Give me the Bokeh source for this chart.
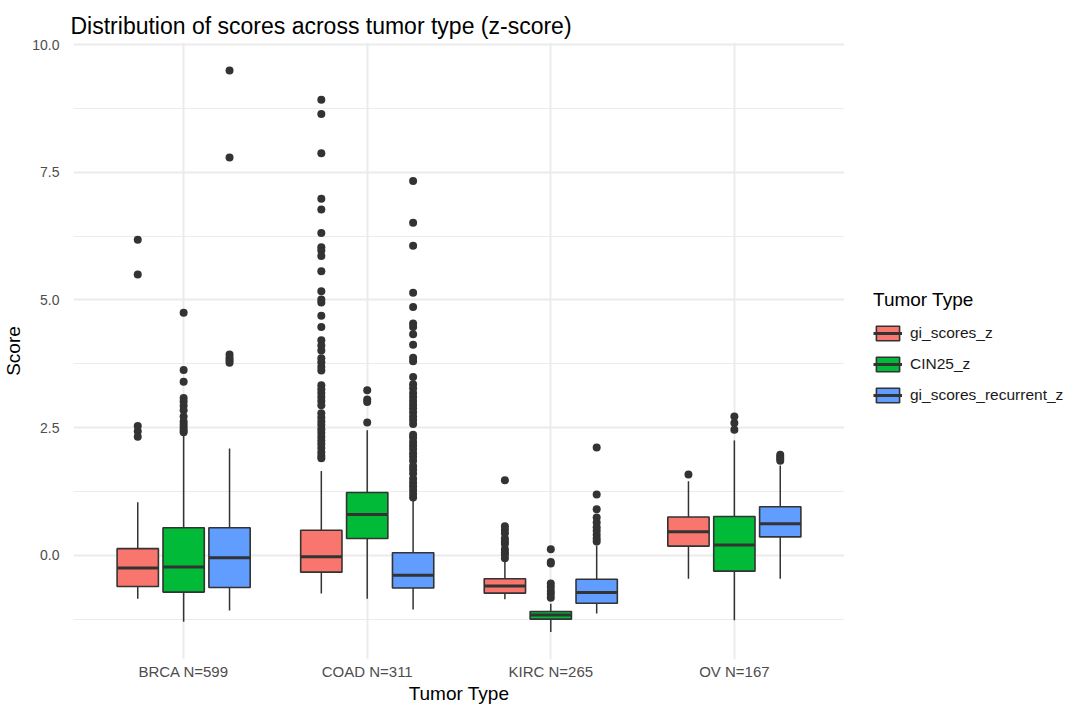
from bokeh.plotting import figure
from bokeh.models import (ColumnDataSource, FixedTicker, Legend, LegendItem,
                          FactorRange, Range1d, PrintfTickFormatter)
from bokeh.transform import dodge
from bokeh.embed import file_html
from bokeh.resources import INLINE

# ---------------- data ----------------
tumor_types = ["BRCA N=599", "COAD N=311", "KIRC N=265", "OV N=167"]
series_names = ["gi_scores_z", "CIN25_z", "gi_scores_recurrent_z"]
fill_colors = ["#F8766D", "#00BA38", "#619CFF"]

# gi_scores_z
gi_lo = [-0.85, -0.75, -0.86, -0.46]
gi_q1 = [-0.61, -0.33, -0.74, 0.18]
gi_med = [-0.25, -0.03, -0.60, 0.46]
gi_q3 = [0.13, 0.49, -0.46, 0.75]
gi_hi = [1.04, 1.65, -0.13, 1.45]
gi_out = [
    [6.18, 5.50, 2.53, 2.43, 2.32],
    [8.92, 8.64, 7.87, 6.98, 6.77, 6.31, 6.03, 5.97, 5.86, 5.56, 5.17, 5.01,
     4.95, 4.69, 4.47, 4.21, 4.11, 4.01, 3.86, 3.78, 3.69, 3.62, 3.33, 3.25,
     3.18, 3.10, 3.02, 2.94, 2.78, 2.70, 2.62, 2.55, 2.47, 2.40, 2.32, 2.25,
     2.18, 2.10, 2.02, 1.95, 1.90],
    [1.47, 0.57, 0.50, 0.43, 0.33, 0.27, 0.22, 0.12, 0.06, 0.01, -0.06],
    [1.58],
]

# CIN25_z
cin_lo = [-1.30, -0.85, -1.50, -1.27]
cin_q1 = [-0.72, 0.33, -1.25, -0.31]
cin_med = [-0.23, 0.80, -1.17, 0.20]
cin_q3 = [0.54, 1.23, -1.10, 0.76]
cin_hi = [2.38, 2.45, -0.95, 2.25]
cin_out = [
    [4.75, 3.63, 3.40, 3.08, 3.01, 2.93, 2.84, 2.72, 2.62, 2.56, 2.50, 2.45, 2.41],
    [3.23, 3.05, 3.00, 2.60],
    [0.12, -0.13, -0.16, -0.55, -0.62, -0.70, -0.76, -0.83],
    [2.72, 2.59, 2.46],
]

# gi_scores_recurrent_z
rec_lo = [-1.08, -1.06, -1.14, -0.46]
rec_q1 = [-0.63, -0.64, -0.94, 0.36]
rec_med = [-0.05, -0.39, -0.73, 0.62]
rec_q3 = [0.54, 0.05, -0.47, 0.95]
rec_hi = [2.09, 1.10, 0.19, 1.76]
rec_out = [
    [9.49, 7.79, 3.93, 3.87, 3.82, 3.77],
    [7.33, 6.51, 6.06, 5.14, 4.86, 4.54, 4.47, 4.33, 4.12, 3.87, 3.80, 3.49,
     3.35, 3.27, 3.18, 3.10, 3.02, 2.95, 2.88, 2.80, 2.72, 2.65, 2.57, 2.36,
     2.30, 2.22, 2.15, 2.08, 2.00, 1.93, 1.85, 1.75, 1.68, 1.60, 1.50, 1.42,
     1.35, 1.28, 1.20, 1.13],
    [2.11, 1.19, 0.90, 0.74, 0.64, 0.55, 0.48, 0.40, 0.33, 0.27],
    [1.97, 1.93, 1.89, 1.85],
]

y_ticks = [0, 2.5, 5, 7.5, 10]
y_minor = [-1.25, 1.25, 3.75, 6.25, 8.75]

stats = [
    (gi_lo, gi_q1, gi_med, gi_q3, gi_hi, gi_out),
    (cin_lo, cin_q1, cin_med, cin_q3, cin_hi, cin_out),
    (rec_lo, rec_q1, rec_med, rec_q3, rec_hi, rec_out),
]

# ---------------- figure ----------------
FONT = "Liberation Sans"
INK = "#333333"

p = figure(frame_width=771, frame_height=617,
           output_backend="svg", toolbar_location=None,
           x_range=FactorRange(factors=tumor_types, range_padding=0.1,
                               range_padding_units="absolute"),
           y_range=Range1d(-2.04, 10.04),
           min_border_left=73, min_border_right=223,
           min_border_top=42, min_border_bottom=48,
           title="Distribution of scores across tumor type (z-score)")
p.outline_line_color = None
p.background_fill_color = "white"
p.border_fill_color = "white"

p.title.text_font = FONT
p.title.text_font_size = "23px"
p.title.text_font_style = "normal"
p.title.text_color = "#000000"
p.title.align = "left"
p.title.offset = -3
p.title.standoff = 8

box_w = 0.225
offsets = [-0.25, 0.0, 0.25]
legend_items = []

for i, (lo, q1, med, q3, hi, outs) in enumerate(stats):
    off = offsets[i]
    src = ColumnDataSource(dict(cat=tumor_types, lo=lo, q1=q1, med=med, q3=q3, hi=hi))
    xc = dodge("cat", off, range=p.x_range)
    p.segment(x0=xc, y0="lo", x1=xc, y1="q1", source=src,
              line_color=INK, line_width=1.5)
    p.segment(x0=xc, y0="q3", x1=xc, y1="hi", source=src,
              line_color=INK, line_width=1.5)
    box_r = p.vbar(x=xc, width=box_w, bottom="q1", top="q3", source=src,
                   fill_color=fill_colors[i], line_color=INK, line_width=1.6)
    med_r = p.segment(x0=dodge("cat", off - box_w / 2, range=p.x_range), y0="med",
                      x1=dodge("cat", off + box_w / 2, range=p.x_range), y1="med",
                      source=src, line_color=INK, line_width=3)
    ocat, oval = [], []
    for k, vals in enumerate(outs):
        ocat += [tumor_types[k]] * len(vals)
        oval += vals
    osrc = ColumnDataSource(dict(cat=ocat, val=oval))
    p.scatter(x=dodge("cat", off, range=p.x_range), y="val", source=osrc,
              size=8, fill_color=INK, line_color=INK, line_width=0)
    legend_items.append(LegendItem(label=series_names[i], renderers=[box_r, med_r]))

# axes
for ax in (p.xaxis[0], p.yaxis[0]):
    ax.axis_line_color = None
    ax.major_tick_line_color = None
    ax.minor_tick_line_color = None
    ax.major_tick_out = 0
    ax.major_tick_in = 0
    ax.major_label_text_font = FONT
    ax.major_label_text_font_size = "15px"
    ax.major_label_text_color = "#4D4D4D"
    ax.axis_label_text_font = FONT
    ax.axis_label_text_font_size = "19px"
    ax.axis_label_text_font_style = "normal"
    ax.axis_label_text_color = "#000000"

p.xaxis.axis_label = "Tumor Type"
p.xaxis.major_label_standoff = 3
p.xaxis.axis_label_standoff = 0
p.yaxis.axis_label = "Score"
p.yaxis.major_label_text_font_size = "14px"
p.yaxis.major_label_standoff = 10
p.yaxis.axis_label_standoff = 5
p.yaxis.ticker = FixedTicker(ticks=y_ticks, minor_ticks=y_minor)
p.yaxis.formatter = PrintfTickFormatter(format="%.1f")

# grid
p.xgrid.grid_line_color = "#EBEBEB"
p.xgrid.grid_line_width = 1.9
p.ygrid.grid_line_color = "#EBEBEB"
p.ygrid.grid_line_width = 1.9
p.ygrid.minor_grid_line_color = "#EBEBEB"
p.ygrid.minor_grid_line_width = 1.0

legend = Legend(items=legend_items, location=(29, 255),
                title="Tumor Type", title_text_font=FONT,
                title_text_font_size="19px", title_text_font_style="normal",
                title_text_color="#000000", title_standoff=13,
                label_text_font=FONT, label_text_font_size="15.5px",
                label_text_color="#1A1A1A", label_standoff=8,
                glyph_width=29, glyph_height=18, spacing=13,
                background_fill_alpha=0, border_line_color=None,
                margin=0, padding=5)
p.add_layout(legend, "right")

open("out.html", "w").write(file_html(p, INLINE))
